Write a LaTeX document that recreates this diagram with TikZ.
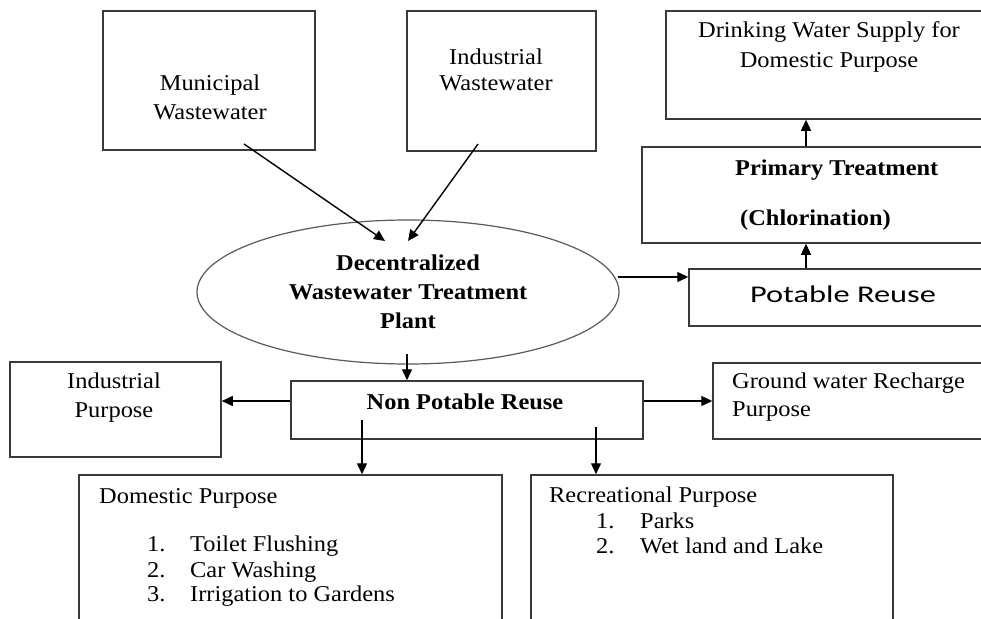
\documentclass[tikz,border=0pt]{standalone}
\usepackage{fontspec}
\usepackage{graphicx}
\setmainfont[FakeStretch=1.08]{Liberation Serif}
\newfontfamily\potfont[FakeStretch=1.35]{Carlito}
\usetikzlibrary{arrows.meta,shapes.geometric}
\definecolor{boxgray}{HTML}{3A3A3A}
\definecolor{ellgray}{HTML}{5A5A5A}
\begin{document}
\begin{tikzpicture}[x=1pt,y=-1pt,
  box/.style={draw=boxgray,line width=1.5pt,inner sep=0pt,rectangle},
  txt/.style={inner sep=0pt,font=\fontsize{22.6}{28}\selectfont,text=black},
  bld/.style={txt,font=\fontsize{22.6}{28}\selectfont\bfseries},
  oneline/.style={text height=15pt,text depth=1pt},
  arr/.style={draw=black,line width=1.4pt,-{Triangle[length=11pt,width=10pt]}}]
\path[use as bounding box] (0,0) rectangle (981,618);
\clip (0,0) rectangle (981,618);
\fill[white] (0,0) rectangle (981,618);

% boxes
\node[box,minimum width=212pt,minimum height=139pt] (mun) at (209,80.5) {};
\node[box,minimum width=189pt,minimum height=140pt] (ind) at (501.5,81) {};
\node[box,minimum width=334pt,minimum height=108pt] (drink) at (833,65) {};
\node[box,minimum width=358pt,minimum height=96pt] (prim) at (821,195) {};
\node[box,minimum width=311pt,minimum height=57pt] (pot) at (844.5,297.5) {};
\node[draw=ellgray,line width=1.2pt,ellipse,inner sep=0pt,minimum width=422pt,minimum height=144pt,
      align=center,font=\fontsize{22.6}{29}\selectfont\bfseries] (ell) at (408,292)
      {Decentralized\\Wastewater Treatment\\Plant};
\node[box,minimum width=352pt,minimum height=58pt] (np) at (467,410) {};
\node[box,minimum width=211pt,minimum height=95pt] (indp) at (115.5,409.5) {};
\node[box,minimum width=287pt,minimum height=76pt] (gw) at (856.5,401) {};
\node[box,minimum width=423pt,minimum height=165pt] (dom) at (290.5,557.5) {};
\node[box,minimum width=362pt,minimum height=165pt] (rec) at (712,557.5) {};

% texts
\node[txt,align=center,font=\fontsize{22.6}{29}\selectfont] (tmun) at (210,97.5) {Municipal\\Wastewater};
\node[txt,align=center,font=\fontsize{22.6}{26}\selectfont] (tind) at (496,70) {Industrial\\Wastewater};
\node[txt,align=center,font=\fontsize{22.6}{30}\selectfont] (tdrink) at (829,47) {Drinking Water Supply for\\Domestic Purpose};
\node[bld,oneline,anchor=west] (tprim1) at (735,168) {Primary Treatment};
\node[bld,oneline,anchor=west] (tprim2) at (740,218) {(Chlorination)};
\node[inner sep=0pt,text height=16pt,text depth=1pt] (tpot) at (843,295) {\scalebox{1}{\potfont\fontsize{24}{28}\selectfont Potable Reuse}};
\node[bld,oneline] (tnp) at (465,402) {Non Potable Reuse};
\node[txt,align=center,font=\fontsize{22.6}{29}\selectfont] (tindp) at (114,397.5) {Industrial\\Purpose};
\node[txt,align=left,font=\fontsize{22.6}{28}\selectfont,anchor=west] (tgw) at (732,397) {Ground water Recharge\\Purpose};

\node[txt,oneline,anchor=west] (tdom) at (99,496) {Domestic Purpose};
\node[txt,oneline,anchor=west] (dn1) at (147,544) {1.};
\node[txt,oneline,anchor=west] (dt1) at (190,544) {Toilet Flushing};
\node[txt,oneline,anchor=west] (dn2) at (147,570) {2.};
\node[txt,oneline,anchor=west] (dt2) at (190,570) {Car Washing};
\node[txt,oneline,anchor=west] (dn3) at (147,594) {3.};
\node[txt,oneline,anchor=west] (dt3) at (190,594) {Irrigation to Gardens};

\node[txt,oneline,anchor=west] (trec) at (549,495) {Recreational Purpose};
\node[txt,oneline,anchor=west] (rn1) at (596,521) {1.};
\node[txt,oneline,anchor=west] (rt1) at (640,521) {Parks};
\node[txt,oneline,anchor=west] (rn2) at (596,546) {2.};
\node[txt,oneline,anchor=west] (rt2) at (640,546) {Wet land and Lake};

% connector end points
\coordinate (mA) at (244,144);
\coordinate (mB) at (385,241);
\coordinate (iA) at (478,144);
\coordinate (iB) at (408,241);
\coordinate (eR) at (618,277);
\coordinate (xp) at (806,0);
\coordinate (eB) at (407,354);
\coordinate (yn) at (0,401);
\coordinate (dA) at (362,420);
\coordinate (rA) at (596,427);

% connectors
\draw[arr] (mA) -- (mB);
\draw[arr] (iA) -- (iB);
\draw[arr] (eR) -- (eR -| pot.west);
\draw[arr] (pot.north -| xp) -- (prim.south -| xp);
\draw[arr] (prim.north -| xp) -- (drink.south -| xp);
\draw[arr] (eB) -- (eB |- np.north);
\draw[arr] (np.west |- yn) -- (indp.east |- yn);
\draw[arr] (np.east |- yn) -- (gw.west |- yn);
\draw[arr] (dA) -- (dA |- dom.north);
\draw[arr] (rA) -- (rA |- rec.north);
\end{tikzpicture}
\end{document}
